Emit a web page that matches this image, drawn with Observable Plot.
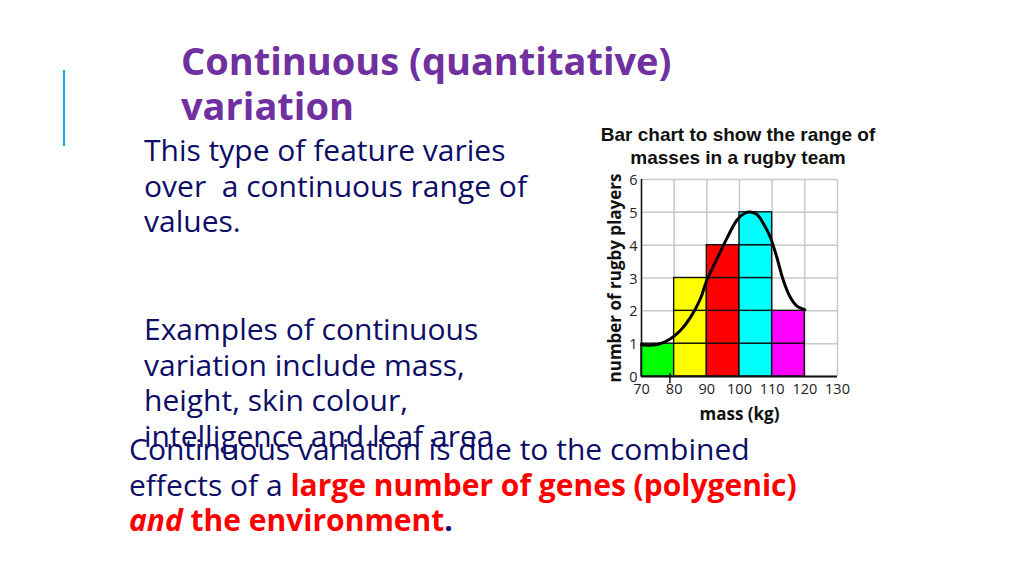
<!DOCTYPE html>
<html>
<head>
<meta charset="utf-8">
<script src="https://cdn.jsdelivr.net/npm/d3@7"></script>
<script src="https://cdn.jsdelivr.net/npm/@observablehq/plot@0.6"></script>
<style>
  html, body { margin: 0; padding: 0; background: #fff; }
  body { width: 1024px; height: 575px; position: relative; overflow: hidden; font-family: "Open Sans", "Noto Sans", sans-serif; }
  .abs { position: absolute; white-space: nowrap; }
  .accent { position: absolute; left: 63px; top: 70px; width: 2px; height: 76px; background: #1cade4; }
  .title { left: 181px; top: 38px; font-size: 38px; line-height: 45px; font-weight: 700; color: #7030a0; }
  .body { font-size: 30px; line-height: 35.5px; color: #0d0d66; }
  .red { color: #ff0000; font-weight: 700; }
  .ctitle { left: 578px; top: 123px; width: 320px; text-align: center; font-family: "Liberation Sans", Arial, sans-serif; font-weight: 700; font-size: 19px; line-height: 23px; color: #111; white-space: normal; }
  #chart { position: absolute; left: 580px; top: 170px; }
</style>
</head>
<body>
<div class="accent"></div>
<div class="abs title">Continuous (quantitative)<br>variation</div>
<div class="abs body" style="left:144px; top:132px;">This type of feature varies<br>over&nbsp; a continuous range of<br>values.</div>
<div class="abs body" style="left:144px; top:311px;">Examples of continuous<br>variation include mass,<br>height, skin colour,<br>intelligence and leaf area</div>
<div class="abs body" style="left:129px; top:431px;">Continuous variation is due to the combined<br>effects of a <span class="red">large number of genes (polygenic)</span><br><span class="red"><i>and</i> the environment</span><b>.</b></div>
<div class="abs ctitle">Bar chart to show the range of masses in a rugby team</div>
<div id="chart"></div>
<script>
// ---- data ----
const binEdges = [70, 80, 90, 100, 110, 120];
const counts = [1, 3, 4, 5, 2];
const barColors = ["#00ff00", "#ffff00", "#ff0000", "#00ffff", "#ff00ff"];
const xTicks = [70, 80, 90, 100, 110, 120, 130];
const yTicks = [0, 1, 2, 3, 4, 5, 6];
const curveMass    = [70, 72.7, 75.8, 78.9, 81.9, 85, 88, 90, 93.1, 96.1, 99.2, 101.7, 103.3, 105.3, 107.3, 109.4, 111.4, 113.4, 115.5, 117.5, 119.5, 120];
const curvePlayers = [0.97, 0.95, 1.0, 1.15, 1.4, 1.8, 2.36, 2.93, 3.58, 4.2, 4.76, 4.98, 5.01, 4.94, 4.66, 4.25, 3.64, 2.93, 2.42, 2.15, 2.05, 2.03];
const xLabel = "mass (kg)";
const yLabel = "number of rugby players";

// ---- derived tables ----
const cells = [];
counts.forEach((c, i) => {
  for (let j = 0; j < c; j++) {
    cells.push({x1: binEdges[i], x2: binEdges[i + 1], y1: j, y2: j + 1, color: barColors[i]});
  }
});
const curve = curveMass.map((m, i) => ({m, p: curvePlayers[i]}));

const chart = Plot.plot({
  width: 290,
  height: 260,
  marginLeft: 61,
  marginRight: 33,
  marginTop: 9,
  marginBottom: 54,
  x: {domain: [70, 130]},
  y: {domain: [0, 6]},
  style: {fontFamily: "Open Sans", fontSize: "14.5px", color: "#222", background: "transparent", overflow: "visible"},
  marks: [
    Plot.gridX(xTicks, {stroke: "#c8c8c8", strokeOpacity: 1, strokeWidth: 1.5}),
    Plot.gridY(yTicks, {stroke: "#c8c8c8", strokeOpacity: 1, strokeWidth: 1.5}),
    Plot.rect(cells, {x1: "x1", x2: "x2", y1: "y1", y2: "y2", fill: "color", stroke: "#111", strokeWidth: 1.4}),
    Plot.ruleX([70], {y1: 0, y2: 6, stroke: "#111", strokeWidth: 1.5}),
    Plot.ruleY([0], {x1: 70, x2: 130, stroke: "#111", strokeWidth: 2}),
    Plot.ruleX([78.7], {y1: 0.09, y2: -0.22, stroke: "#111", strokeWidth: 1.5}),
    Plot.line(curve, {x: "m", y: "p", curve: "catmull-rom", stroke: "#000", strokeWidth: 3}),
    Plot.axisX(xTicks, {tickSize: 0, tickPadding: 7, label: null, fontSize: 14.5}),
    Plot.axisY(yTicks, {tickSize: 0, tickPadding: 4, label: null, fontSize: 14.5, dy: 1}),
    Plot.text([xLabel], {frameAnchor: "bottom", dy: 43, fontWeight: "bold", fontSize: 17, fill: "#111"}),
    Plot.text([yLabel], {frameAnchor: "left", rotate: -90, dx: -26, textAnchor: "middle", lineAnchor: "middle", fontWeight: "bold", fontSize: 17, fill: "#111"})
  ]
});
document.getElementById("chart").appendChild(chart);
</script>
</body>
</html>
